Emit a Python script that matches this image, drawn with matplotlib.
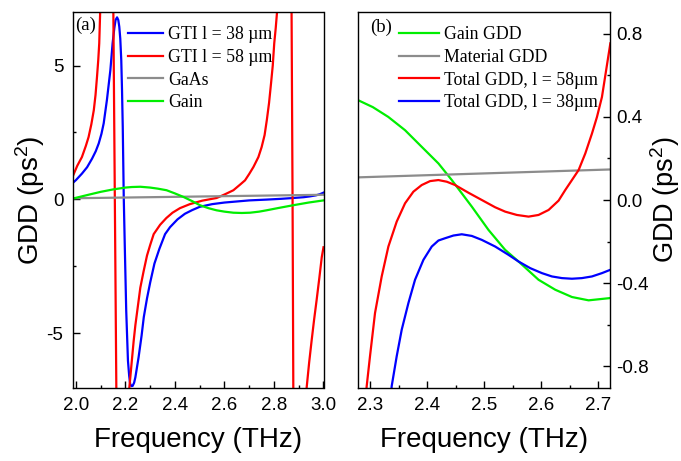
import matplotlib
matplotlib.use("Agg")
import matplotlib.pyplot as plt
from matplotlib.ticker import MultipleLocator

plt.rcParams['font.family'] = ['Liberation Sans', 'DejaVu Sans']
plt.rcParams['mathtext.default'] = 'regular'

# ---------------- Panel (a) data ----------------
a_gti38_f = [1.988, 2.0, 2.024, 2.045, 2.065, 2.08, 2.092, 2.103, 2.112, 2.125, 2.139, 2.148,
             2.155, 2.16, 2.166, 2.171, 2.175, 2.179, 2.183, 2.186, 2.189, 2.193, 2.197, 2.203,
             2.21, 2.215, 2.219, 2.224, 2.229, 2.235, 2.24, 2.253, 2.265, 2.274, 2.287, 2.3,
             2.317, 2.337, 2.36, 2.38, 2.41, 2.44, 2.47, 2.5, 2.55, 2.6, 2.65, 2.7, 2.77, 2.83,
             2.878, 2.92, 2.945, 2.97, 2.985, 3.0]
a_gti38_v = [0.62, 0.72, 0.96, 1.2, 1.52, 1.8, 2.09, 2.45, 2.84, 3.71, 4.83, 5.83,
             6.4, 6.7, 6.8, 6.7, 6.45, 6.0, 5.2, 4.1, 2.71, 0.09, -1.66, -4.16,
             -6.03, -6.6, -6.9, -6.98, -6.97, -6.85, -6.65, -5.9, -5.1, -4.4, -3.7, -3.1,
             -2.4, -1.85, -1.3, -1.04, -0.75, -0.54, -0.4, -0.28, -0.18, -0.12, -0.08, -0.04, -0.01, 0.02,
             0.05, 0.08, 0.11, 0.15, 0.19, 0.25]

a_gti58_f = [1.988, 2.005, 2.024, 2.04, 2.051, 2.062, 2.072, 2.079, 2.085, 2.09, 2.094, 2.098,
             2.115, 2.135, 2.145, 2.151, 2.157, 2.163, 2.175, 2.195, 2.208, 2.215, 2.22, 2.226,
             2.233, 2.24, 2.25, 2.26, 2.273, 2.287, 2.3, 2.314, 2.34, 2.365, 2.39, 2.42,
             2.46, 2.51, 2.568, 2.6, 2.636, 2.663, 2.683, 2.7, 2.717, 2.737, 2.75, 2.762,
             2.771, 2.78, 2.788, 2.795, 2.801, 2.807, 2.813, 2.83, 2.855, 2.866, 2.871, 2.875,
             2.878, 2.89, 2.915, 2.928, 2.932, 2.942, 2.952, 2.962, 2.972, 2.983, 2.993, 3.0]
a_gti58_v = [0.88, 1.25, 1.58, 2.0, 2.33, 2.8, 3.33, 3.9, 4.58, 5.2, 5.83, 7.08,
             12, 20, 15, 7.0, 0, -7.0, -20, -15, -9, -7.1, -6.6, -6.0,
             -5.3, -4.7, -4.0, -3.3, -2.7, -2.1, -1.7, -1.3, -0.95, -0.7, -0.5, -0.33,
             -0.18, -0.05, 0.05, 0.18, 0.34, 0.55, 0.71, 0.95, 1.21, 1.58, 1.95, 2.4,
             2.96, 3.6, 4.33, 5.0, 5.83, 6.4, 7.08, 12, 20, 12, 7.0, 0,
             -7.0, -20, -12, -8, -7.03, -6.1, -5.28, -4.5, -3.78, -2.95, -2.16, -1.79]

a_gaas_f = [1.988, 3.0]
a_gaas_v = [0.04, 0.17]

a_gain_f = [1.988, 2.05, 2.1, 2.15, 2.2, 2.226, 2.26, 2.299, 2.33, 2.366, 2.4, 2.434, 2.47,
            2.501, 2.535, 2.568, 2.6, 2.636, 2.67, 2.703, 2.74, 2.77, 2.82, 2.878, 2.94, 3.0]
a_gain_v = [0.03, 0.17, 0.28, 0.37, 0.44, 0.46, 0.47, 0.44, 0.4, 0.34, 0.22, 0.09, -0.07,
            -0.22, -0.33, -0.41, -0.46, -0.5, -0.51, -0.5, -0.46, -0.41, -0.32, -0.22, -0.12, -0.04]

# ---------------- Panel (b) data ----------------
b_gain_f = [2.2795, 2.305, 2.332, 2.3614, 2.3906, 2.4199, 2.4433, 2.4784, 2.5076, 2.5368,
            2.5602, 2.5953, 2.6246, 2.6538, 2.683, 2.7211]
b_gain_v = [0.48, 0.447, 0.40, 0.336, 0.256, 0.176, 0.096, -0.032, -0.144, -0.24,
            -0.296, -0.384, -0.432, -0.467, -0.483, -0.472]

b_mat_f = [2.2795, 2.7211]
b_mat_v = [0.109, 0.147]

b_tot58_f = [2.288, 2.2942, 2.3, 2.3088, 2.3205, 2.3322, 2.3468, 2.3614, 2.376, 2.3906,
             2.4053, 2.4199, 2.4345, 2.4491, 2.4725, 2.4959, 2.5193, 2.5368, 2.5573, 2.5778,
             2.5953, 2.6129, 2.6304, 2.6421, 2.6538, 2.6655, 2.6772, 2.6889, 2.6977, 2.7064,
             2.7211]
b_tot58_v = [-1.1, -0.896, -0.752, -0.544, -0.368, -0.224, -0.104, -0.016, 0.040, 0.072,
             0.091, 0.096, 0.088, 0.072, 0.035, 0.0, -0.035, -0.056, -0.072, -0.080,
             -0.072, -0.048, -0.003, 0.048, 0.096, 0.144, 0.224, 0.32, 0.40, 0.496,
             0.754]

b_tot38_f = [2.333, 2.338, 2.3468, 2.3556, 2.3673, 2.3789, 2.3936, 2.4082, 2.4199, 2.4316,
             2.4462, 2.4608, 2.4784, 2.4959, 2.5193, 2.5427, 2.5602, 2.5807, 2.6012, 2.6187,
             2.6363, 2.6538, 2.6713, 2.6889, 2.7064, 2.7211]
b_tot38_v = [-1.1, -0.896, -0.752, -0.624, -0.496, -0.384, -0.288, -0.224, -0.195, -0.184,
             -0.171, -0.165, -0.173, -0.192, -0.224, -0.264, -0.296, -0.328, -0.352, -0.368,
             -0.376, -0.379, -0.376, -0.368, -0.352, -0.336]

BLUE = '#0000ff'
RED = '#ff0000'
GRAY = '#8c8c8c'
GREEN = '#00ee00'
LW = 1.6

fig = plt.figure(figsize=(6.81, 4.61), dpi=100)
axa = fig.add_axes([73/681, 1-388/461, 250.5/681, 376/461])
axb = fig.add_axes([358.3/681, 1-388/461, 251.7/681, 376/461])

leg_prop = {'family': 'Liberation Serif', 'size': 12.8}

axa.plot(a_gti38_f, a_gti38_v, color=BLUE, lw=LW, label='GTI l = 38 \u00b5m')
axa.plot(a_gti58_f, a_gti58_v, color=RED, lw=LW, label='GTI l = 58 \u00b5m')
axa.plot(a_gaas_f, a_gaas_v, color=GRAY, lw=LW, label='GaAs')
axa.plot(a_gain_f, a_gain_v, color=GREEN, lw=LW, label='Gain')
axa.set_xlim(1.988, 3.0)
axa.set_ylim(-7.05, 7.0)
axa.xaxis.set_minor_locator(MultipleLocator(0.1))
axa.yaxis.set_minor_locator(MultipleLocator(2.5))
axa.set_xticks([2.0, 2.2, 2.4, 2.6, 2.8, 3.0])
axa.set_xticklabels(['2.0', '2.2', '2.4', '2.6', '2.8', '3.0'])
axa.set_yticks([-5, 0, 5])
axa.set_yticklabels(['-5', '0', '5'])
axa.tick_params(which='both', direction='in', top=False, right=False, width=1.0)
axa.tick_params(which='major', length=4.7, labelsize=13.5)
axa.tick_params(which='minor', length=2.4)
axa.tick_params(axis='y', which='major', pad=7)
axa.tick_params(axis='x', which='major', pad=6.5)
axa.set_xlabel('Frequency (THz)', fontsize=20)
axa.xaxis.set_label_coords(0.5, -0.105)
axa.set_ylabel('GDD (ps$^2$)', fontsize=20)
axa.yaxis.set_label_coords(-0.105, 0.5)
axa.text(0.008, 0.988, '(a)', transform=axa.transAxes, ha='left', va='top',
         fontsize=13.5, family='Liberation Serif')
axa.legend(loc='upper left', bbox_to_anchor=(0.17, 0.995), frameon=False,
           prop=leg_prop, handlelength=1.97, handletextpad=0.28,
           labelspacing=0.32, borderaxespad=0.3)

axb.plot(b_gain_f, b_gain_v, color=GREEN, lw=LW, label='Gain GDD')
axb.plot(b_mat_f, b_mat_v, color=GRAY, lw=LW, label='Material GDD')
axb.plot(b_tot58_f, b_tot58_v, color=RED, lw=LW, label='Total GDD, l = 58\u00b5m')
axb.plot(b_tot38_f, b_tot38_v, color=BLUE, lw=LW, label='Total GDD, l = 38\u00b5m')
axb.set_xlim(2.2795, 2.7205)
axb.set_ylim(-0.905, 0.905)
axb.xaxis.set_minor_locator(MultipleLocator(0.05))
axb.yaxis.set_minor_locator(MultipleLocator(0.2))
axb.yaxis.tick_right()
axb.set_xticks([2.3, 2.4, 2.5, 2.6, 2.7])
axb.set_xticklabels(['2.3', '2.4', '2.5', '2.6', '2.7'])
axb.set_yticks([-0.8, -0.4, 0.0, 0.4, 0.8])
axb.set_yticklabels(['-0.8', '-0.4', '0.0', '0.4', '0.8'])
axb.tick_params(which='both', direction='in', top=False, left=False, right=True, width=1.0)
axb.tick_params(which='major', length=4.7, labelsize=13.5)
axb.tick_params(which='minor', length=2.4)
axb.tick_params(axis='y', which='major', pad=4.5)
axb.tick_params(axis='x', which='major', pad=6.5)
axb.set_xlabel('Frequency (THz)', fontsize=20)
axb.xaxis.set_label_coords(0.5, -0.105)
axb.yaxis.set_label_position('right')
axb.set_ylabel('GDD (ps$^2$)', fontsize=19.5)
axb.yaxis.set_label_coords(1.152, 0.5)
axb.text(0.046, 0.983, '(b)', transform=axb.transAxes, ha='left', va='top',
         fontsize=13.5, family='Liberation Serif')
axb.legend(loc='upper left', bbox_to_anchor=(0.112, 0.995), frameon=False,
           prop=leg_prop, handlelength=2.28, handletextpad=0.28,
           labelspacing=0.32, borderaxespad=0.3)

for ax in (axa, axb):
    for s in ax.spines.values():
        s.set_linewidth(1.0)

fig.savefig('out.png', dpi=100)
